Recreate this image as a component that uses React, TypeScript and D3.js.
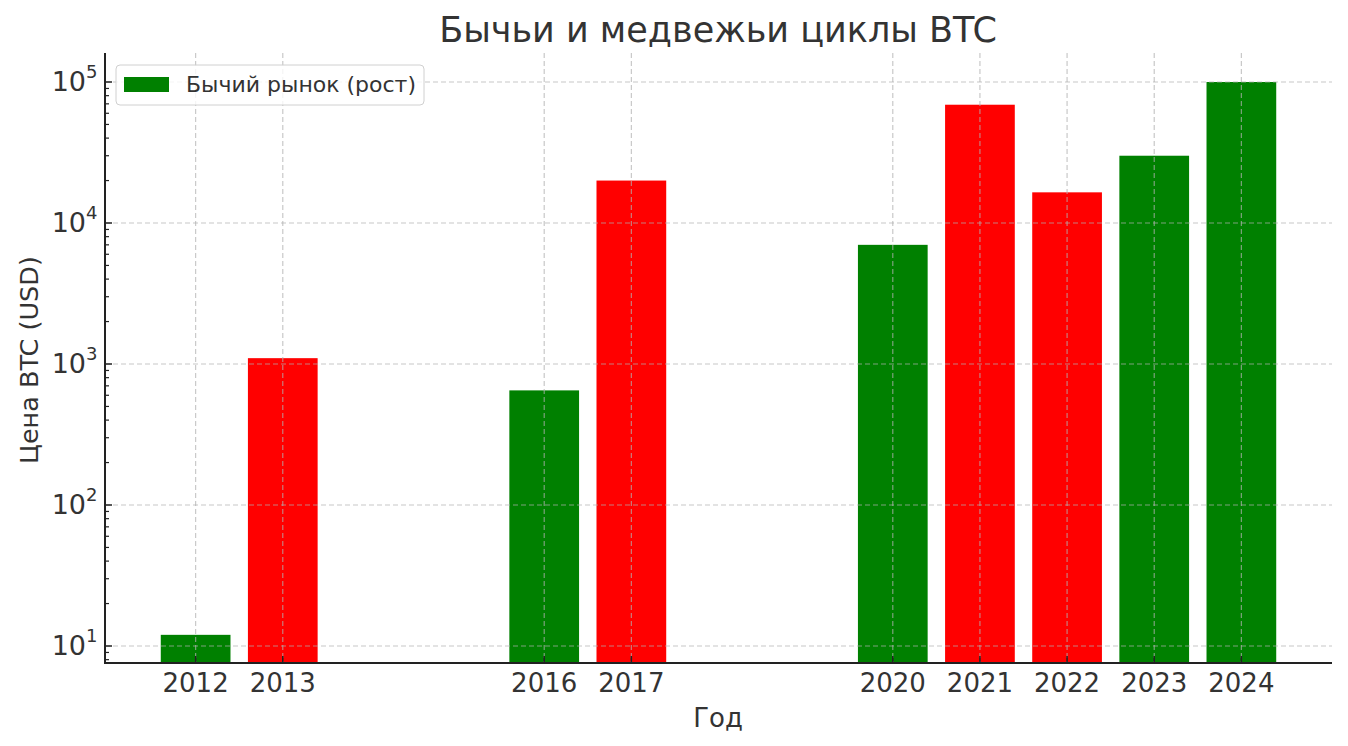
import * as d3 from "d3";

const years = [2012, 2013, 2016, 2017, 2020, 2021, 2022, 2023, 2024];
const prices = [12, 1100, 650, 20000, 7000, 69000, 16500, 30000, 100000];
const phases = ["bull", "bear", "bull", "bear", "bull", "bear", "bear", "bull", "bull"];
const yTicks = [10, 100, 1000, 10000, 100000];

const width = 1348;
const height = 746;
const left = 105;
const right = 1332;
const top = 53;
const bottom = 663;
const font = "DejaVu Sans, sans-serif";
const textColor = "#333";
const green = "#008000";
const red = "#ff0000";

export default function App() {
  const x = d3.scaleLinear().domain([2010.96, 2025.04]).range([left, right]);
  const y = d3.scaleLog().domain([10, 100000]).range([646, 82]);
  const barW = x(2012.8) - x(2012);

  // log minor ticks 2..9 in each decade that falls inside the plot
  const minor: number[] = [];
  for (let e = 0; e <= 5; e++) {
    for (let m = 2; m <= 9; m++) {
      const v = m * Math.pow(10, e);
      const py = y(v);
      if (py >= top && py <= bottom) minor.push(v);
    }
  }

  return (
    <svg
      width={width}
      height={height}
      style={{ position: "absolute", left: 0, top: 0, background: "#fff" }}
      fontFamily={font}
    >
      <text x={718} y={42} textAnchor="middle" fontSize={35} fill={textColor}>
        Бычьи и медвежьи циклы BTC
      </text>

      {years.map((yr, i) => (
        <rect
          key={yr}
          x={x(yr) - barW / 2}
          y={y(prices[i])}
          width={barW}
          height={bottom - y(prices[i])}
          fill={phases[i] === "bull" ? green : red}
        />
      ))}

      {yTicks.map((t) => (
        <line
          key={`gy${t}`}
          x1={left}
          x2={right}
          y1={y(t)}
          y2={y(t)}
          stroke="#b0b0b0"
          strokeOpacity={0.7}
          strokeDasharray="5,3"
          strokeWidth={1.2}
        />
      ))}
      {years.map((yr) => (
        <line
          key={`gx${yr}`}
          x1={x(yr)}
          x2={x(yr)}
          y1={top}
          y2={bottom}
          stroke="#b0b0b0"
          strokeOpacity={0.7}
          strokeDasharray="5,3"
          strokeWidth={1.2}
        />
      ))}

      {minor.map((v) => (
        <line key={`m${v}`} x1={left} x2={left + 4} y1={y(v)} y2={y(v)} stroke="#222" strokeWidth={1.2} />
      ))}
      {yTicks.map((t) => (
        <g key={`yt${t}`}>
          <line x1={left} x2={left + 7} y1={y(t)} y2={y(t)} stroke="#222" strokeWidth={1.5} />
          <text x={86} y={y(t) + 9} textAnchor="end" fontSize={27} fill={textColor}>
            10
          </text>
          <text x={86} y={y(t) - 4} fontSize={18} fill={textColor}>
            {Math.round(Math.log10(t))}
          </text>
        </g>
      ))}
      {years.map((yr) => (
        <g key={`xt${yr}`}>
          <line x1={x(yr)} x2={x(yr)} y1={bottom} y2={bottom - 7} stroke="#222" strokeWidth={1.5} />
          <text x={x(yr)} y={692} textAnchor="middle" fontSize={26} fill={textColor}>
            {yr}
          </text>
        </g>
      ))}

      <line x1={left} x2={left} y1={top} y2={bottom + 1} stroke="#222" strokeWidth={2} />
      <line x1={left - 1} x2={right} y1={bottom} y2={bottom} stroke="#222" strokeWidth={2} />

      <text x={718} y={727} textAnchor="middle" fontSize={26} fill={textColor}>
        Год
      </text>
      <text
        transform={`translate(38, 360) rotate(-90)`}
        textAnchor="middle"
        fontSize={25.5}
        fill={textColor}
      >
        Цена BTC (USD)
      </text>

      <g>
        <rect x={116} y={65} width={308} height={40} rx={4} fill="#fff" fillOpacity={0.8} stroke="#d0d0d0" />
        <rect x={124} y={77} width={45} height={15} fill={green} />
        <text x={186} y={92} fontSize={22} fill={textColor}>
          Бычий рынок (рост)
        </text>
      </g>
    </svg>
  );
}
